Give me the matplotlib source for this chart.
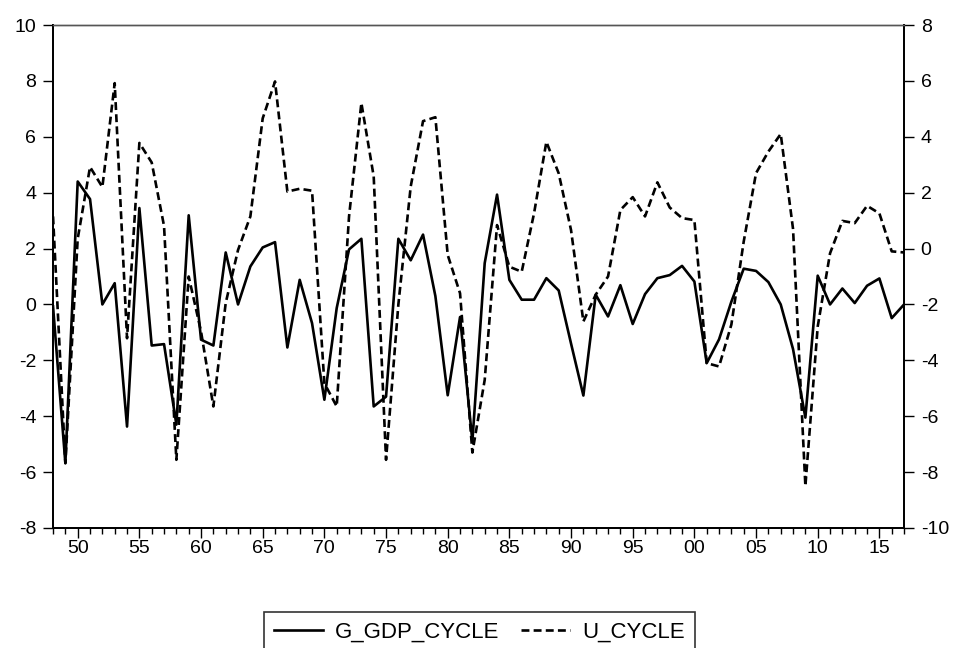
import matplotlib
matplotlib.use("Agg")
import matplotlib.pyplot as plt
from matplotlib.ticker import MultipleLocator, FixedLocator

plt.rcParams['font.family'] = ['Liberation Sans', 'DejaVu Sans']
plt.rcParams['axes.unicode_minus'] = False

# annual observations 1948-2017
years = list(range(1948, 2018))

# G_GDP_CYCLE (left axis)
g_gdp_cycle = [
    -0.07, -5.68, 4.40, 3.77, 0.00, 0.76, -4.37, 3.45, -1.47, -1.42,
    -4.30, 3.19, -1.26, -1.47, 1.86, 0.00, 1.36, 2.04, 2.23, -1.54,
    0.88, -0.67, -3.41, -0.13, 1.97, 2.35, -3.65, -3.30, 2.35, 1.58,
    2.50, 0.30, -3.25, -0.45, -4.90, 1.48, 3.93, 0.88, 0.17, 0.17,
    0.94, 0.50, -1.40, -3.26, 0.35, -0.43, 0.69, -0.70, 0.37, 0.94,
    1.05, 1.38, 0.82, -2.10, -1.25, 0.10, 1.28, 1.20, 0.80, 0.00,
    -1.60, -4.05, 1.03, 0.00, 0.57, 0.05, 0.67, 0.93, -0.49, 0.00,
]

# U_CYCLE (right axis)
u_cycle = [
    1.15, -7.68, 0.35, 2.92, 2.20, 5.92, -3.21, 3.78, 3.08, 0.81,
    -7.56, -1.00, -2.97, -5.65, -1.95, -0.05, 1.15, 4.66, 5.98, 2.04,
    2.14, 2.07, -4.82, -5.65, 1.15, 5.21, 2.58, -7.56, -2.00, 2.22,
    4.56, 4.70, -0.23, -1.60, -7.30, -4.70, 0.84, -0.65, -0.83, 1.26,
    3.82, 2.69, 0.66, -2.61, -1.65, -1.00, 1.38, 1.84, 1.15, 2.37,
    1.47, 1.09, 1.02, -4.10, -4.22, -2.72, 0.25, 2.70, 3.47, 4.10,
    0.70, -8.50, -2.79, -0.17, 0.99, 0.91, 1.53, 1.26, -0.10, -0.14,
]

major_years = list(range(1950, 2018, 5))
major_labels = [str(y)[2:] for y in major_years]

fig = plt.figure(figsize=(9.59, 6.48), dpi=100)
ax = fig.add_axes([0.0553, 0.1852, 0.8874, 0.7762])
ax2 = ax.twinx()

l1, = ax.plot(years, g_gdp_cycle, color='black', lw=1.9, label='G_GDP_CYCLE')
l2, = ax2.plot(years, u_cycle, color='black', lw=1.9, dashes=(3.0, 1.6),
               label='U_CYCLE')

ax.set_xlim(1948, 2017)
ax.set_ylim(-8, 10)
ax2.set_ylim(-10, 8)
ax.yaxis.set_major_locator(MultipleLocator(2))
ax2.yaxis.set_major_locator(MultipleLocator(2))
ax.xaxis.set_major_locator(FixedLocator(major_years))
ax.xaxis.set_minor_locator(MultipleLocator(1))
ax.set_xticklabels(major_labels)

for a in (ax, ax2):
    a.tick_params(axis='both', which='major', direction='out', length=7,
                  width=1.0, labelsize=14, color='black', pad=5)
    a.tick_params(axis='x', which='minor', direction='out', length=4,
                  width=1.0)
    for side in ('left', 'right', 'bottom'):
        a.spines[side].set_linewidth(1.3)
    a.spines['top'].set_linewidth(1.0)
    a.spines['top'].set_color('#555555')

ax.tick_params(axis='x', which='major', pad=2)

leg = fig.legend(handles=[l1, l2], loc='upper center', ncol=2,
                 bbox_to_anchor=(0.5, 1 - 612 / 648), fontsize=16,
                 frameon=True, fancybox=False, edgecolor='black',
                 handlelength=2.2, handletextpad=0.55, columnspacing=1.0,
                 borderpad=0.45, borderaxespad=0)
leg.get_frame().set_linewidth(1.2)

fig.savefig("out.png", dpi=100)
